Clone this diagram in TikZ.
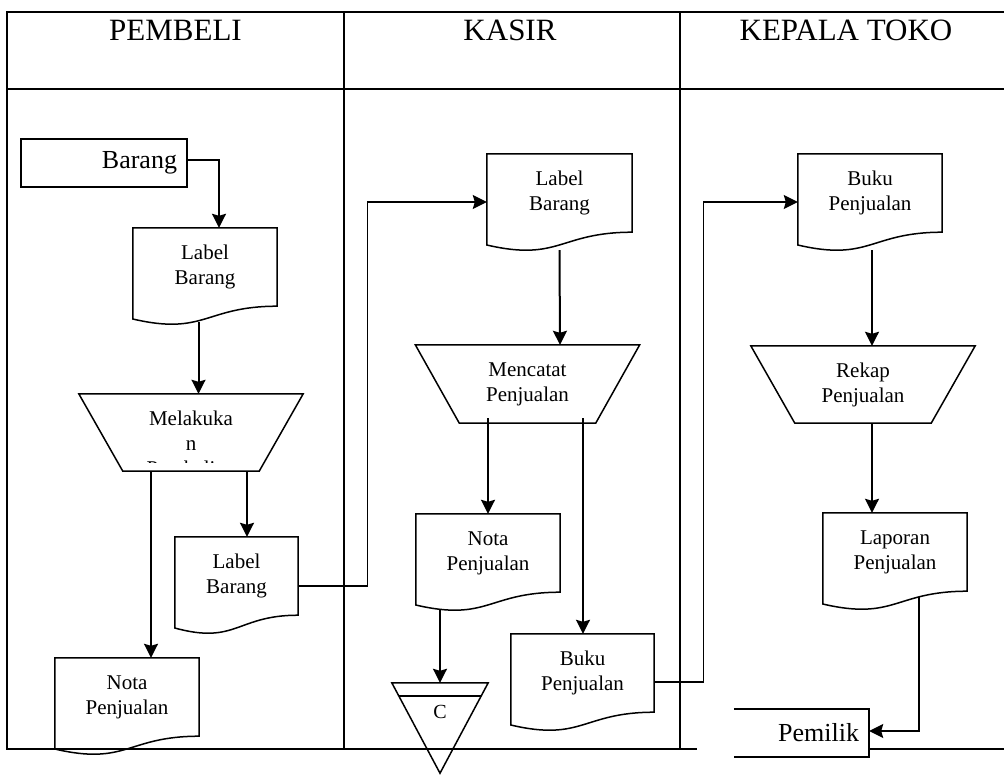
\documentclass[tikz,border=0pt]{standalone}
\usepackage{fontspec}
\setmainfont{Liberation Serif}
\usetikzlibrary{arrows.meta,calc}
\newcommand\mydocout[1]{\draw[shapeline] (#1.north west) -- (#1.north east) -- (#1.south east) .. controls (#1.south) and ([yshift=-29.7pt]#1.south) .. ([yshift=-12.8pt]#1.south west) -- cycle;}
\newcommand\mytrapout[1]{\draw[shapeline] (#1.north west) -- (#1.north east) -- ([xshift=-44pt]#1.south east) -- ([xshift=44pt]#1.south west) -- cycle;}
\begin{document}
\begin{tikzpicture}[x=1pt,y=-1pt,
  shapeline/.style={line width=1.5pt},
  frameline/.style={line width=2pt},
  arr/.style={line width=2pt,-{Stealth[length=14pt,width=14pt,inset=2pt]}},
  arrthin/.style={line width=1.4pt,-{Stealth[length=14pt,width=14pt,inset=2pt]}},
  conn/.style={line width=1.4pt},
  smalltext/.style={font=\fontsize{21}{25}\selectfont},
  bigtext/.style={font=\fontsize{26}{30}\selectfont},
  docnode/.style={smalltext,minimum height=78pt,minimum width=#1,inner sep=0pt,align=center},
  trapnode/.style={smalltext,minimum width=224pt,minimum height=#1,inner sep=0pt,align=center},
  headtext/.style={font=\fontsize{31}{36}\selectfont,anchor=base},
]
\useasboundingbox (0,0) rectangle (1004,774);

% frame
\draw[frameline] (1004,12) -- (7,12) -- (7,749) -- (697,749);
\draw[frameline] (7,89) -- (1004,89);
\draw[frameline] (344,12) -- (344,749);
\draw[frameline] (680,12) -- (680,749);
\draw[frameline] (869,749) -- (1004,749);

% headers
\node[headtext] (hp) at (175.5,40) {PEMBELI};
\node[headtext] (hk) at (510,40) {KASIR};
\node[headtext] (ht) at (846,40) {KEPALA TOKO};

% PEMBELI
\node[draw,shapeline,bigtext,minimum width=166pt,minimum height=48pt,inner sep=0pt,text width=146pt,align=right] (barang) at (104,163) {Barang};
\node[docnode=144pt] (lb1) at (205,267) {Label\\Barang}; \mydocout{lb1}
\node[trapnode=77pt] (mel) at (191,432.5) {}; \mytrapout{mel}
\begin{scope}
  \clip (79,394) rectangle (303,462.5);
  \node[smalltext,anchor=north,inner sep=0pt,align=center] (meltext) at (191,410.5) {Melakuka\\n\\Pembelian};
\end{scope}
\node[docnode=123pt] (lb2) at (236.5,576) {Label\\Barang}; \mydocout{lb2}
\node[docnode=144pt] (np1) at (127,697) {Nota\\Penjualan}; \mydocout{np1}

% KASIR
\node[docnode=145pt] (lbk) at (559.5,193) {Label\\Barang}; \mydocout{lbk}
\node[trapnode=78pt] (mcp) at (527.5,384) {Mencatat\\Penjualan}; \mytrapout{mcp}
\node[docnode=144pt] (npk) at (488,553) {Nota\\Penjualan}; \mydocout{npk}
\node[docnode=143pt] (bpk) at (582.5,673) {Buku\\Penjualan}; \mydocout{bpk}
\node[minimum width=96pt,minimum height=90pt,inner sep=0pt] (ctri) at (440,728) {};
\draw[shapeline] (ctri.north west) -- (ctri.north east) -- (ctri.south) -- cycle;
\draw[shapeline] ($(ctri.north west)!0.1444!(ctri.south)$) -- ($(ctri.north east)!0.1444!(ctri.south)$);
\node[font=\fontsize{20}{24}\selectfont,anchor=base] (clab) at (440,718) {C};

% KEPALA TOKO
\node[docnode=144pt] (bpt) at (870,193) {Buku\\Penjualan}; \mydocout{bpt}
\node[trapnode=77pt] (rek) at (863,384.5) {Rekap\\Penjualan}; \mytrapout{rek}
\node[docnode=144pt] (lap) at (895,552) {Laporan\\Penjualan}; \mydocout{lap}
\node[bigtext,minimum width=135pt,minimum height=48pt,inner sep=0pt,text width=115pt,align=right] (pem) at (801.5,733) {Pemilik};
\draw[shapeline] (pem.north west) -- (pem.north east) -- (pem.south east) -- (pem.south west);

% connectors
\draw[arr] ([yshift=3pt]barang.east) -| ([xshift=14pt]lb1.north);
\draw[arr] ([xshift=-6.5pt,yshift=-16pt]lb1.south) -- ([xshift=7.5pt]mel.north);
\draw[arr] ([xshift=-40pt]mel.south) -- ([xshift=24pt]np1.north);
\draw[arr] ([xshift=56pt]mel.south) -- ([xshift=10.5pt]lb2.north);
\draw[arrthin] ([yshift=-10pt]lb2.east) -- ++(69,0) |- ([yshift=-9pt]lbk.west);
\draw[arr] ([yshift=-18pt]lbk.south) -- ([xshift=32.5pt]mcp.north);
\draw[arr] ([xshift=-39.5pt,yshift=5pt]mcp.south) -- (npk.north);
\draw[arr] ([xshift=55.5pt,yshift=5pt]mcp.south) -- ([xshift=0.5pt]bpk.north);
\draw[arr] ([xshift=-48pt,yshift=-18pt]npk.south) -- (ctri.north);
\draw[arrthin] ([yshift=-9pt]bpk.east) -- ++(49,0) |- ([yshift=-9pt]bpt.west);
\draw[arr] ([xshift=2pt,yshift=-18pt]bpt.south) -- ([xshift=9pt]rek.north);
\draw[arr] ([xshift=9pt]rek.south) -- ([xshift=-23pt]lap.north);
\draw[arrthin] ([xshift=24pt,yshift=-6pt]lap.south) |- ([yshift=2pt]pem.east);
\end{tikzpicture}
\end{document}
